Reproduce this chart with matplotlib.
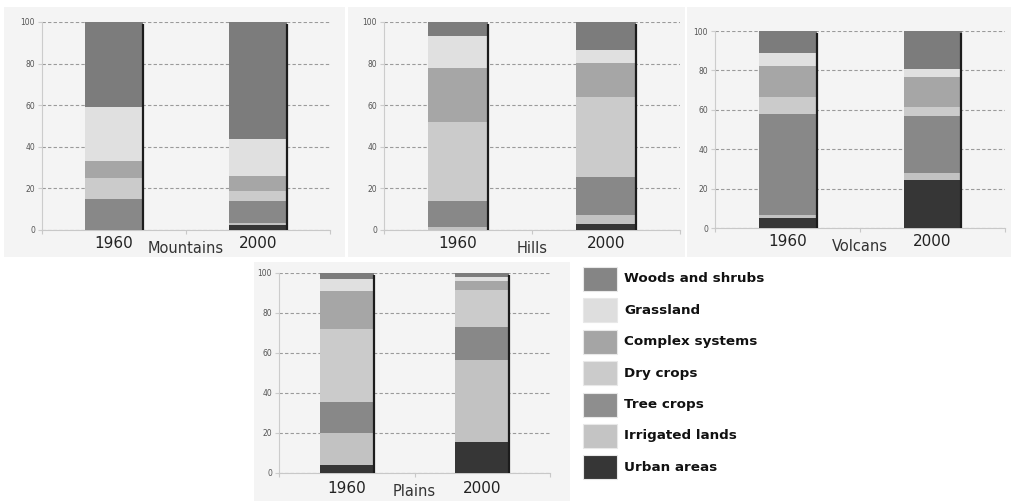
import numpy as np
from matplotlib import pyplot as plt
from matplotlib.patches import Rectangle

# stack order, bottom to top
classes = ["Urban areas", "Irrigated lands", "Tree crops", "Dry crops",
           "Complex systems", "Grassland", "Woods and shrubs"]
colors = ["#363636", "#c2c2c2", "#888888", "#cbcbcb", "#a6a6a6", "#e0e0e0", "#7c7c7c"]
legend_colors = ["#363636", "#c4c4c4", "#8e8e8e", "#cbcbcb", "#a5a5a5", "#dedede", "#858585"]

years = ["1960", "2000"]
regions = ["Mountains", "Hills", "Volcans", "Plains"]

# percent of each class, [1960, 2000], order as in classes
mountains = [[0.0, 0.0, 14.7, 10.1, 8.4, 26.1, 40.7],
             [2.2, 1.3, 10.4, 5.0, 7.2, 17.5, 56.4]]
hills = [[0.0, 1.3, 12.8, 38.0, 25.6, 15.4, 6.9],
         [2.7, 4.4, 18.5, 38.5, 16.4, 5.8, 13.7]]
volcans = [[4.9, 1.7, 51.2, 8.9, 15.7, 6.3, 11.3],
           [24.5, 3.4, 29.0, 4.4, 15.6, 3.8, 19.3]]
plains = [[3.8, 16.4, 15.4, 36.5, 18.7, 6.2, 3.0],
          [15.4, 41.1, 16.4, 18.7, 4.2, 2.2, 2.0]]
data = [mountains, hills, volcans, plains]

W, H = 1012, 501
fig = plt.figure(figsize=(W / 100, H / 100), dpi=100)
fig.patch.set_facecolor("white")

# panel backgrounds (pixels: x0, y0, x1, y1 from top-left)
panels = [(4, 7, 345, 257), (348, 7, 685, 257), (687, 7, 1012, 257), (254, 262, 570, 501)]
for x0, y0, x1, y1 in panels:
    bg = fig.add_axes([x0 / W, 1 - y1 / H, (x1 - x0) / W, (y1 - y0) / H], zorder=-5)
    bg.set_facecolor("#f4f4f4")
    bg.set_axis_off()
    bg.add_patch(Rectangle((0, 0), 1, 1, transform=bg.transAxes, facecolor="#f4f4f4",
                           edgecolor="none"))

# axes boxes (pixels: x0, x1, ytop, ybottom)
boxes = [(42, 330, 22, 230), (384, 680, 22, 230), (715, 1005, 31, 228), (279, 550, 273, 473)]
lab_off = [(9.5, 13), (9.5, 13), (10, 13), (11, 13)]

bw = 0.4
for k in range(4):
    x0, x1, yt, yb = boxes[k]
    ax = fig.add_axes([x0 / W, 1 - yb / H, (x1 - x0) / W, (yb - yt) / H])
    ax.set_facecolor("none")
    vals = np.array(data[k])
    bottoms = np.zeros(2)
    for c in range(len(classes)):
        ax.bar([0, 1], vals[:, c], bw, bottom=bottoms, color=colors[c], linewidth=0, zorder=3)
        bottoms += vals[:, c]
    # dark shadow on the right edge of each bar
    ax.vlines([bw / 2, 1 + bw / 2], 0, 99, color="#1c1c1c", linewidth=1.6, zorder=4)

    ax.set_xlim(-0.5, 1.5)
    ax.set_ylim(0, 100)
    ax.set_yticks([0, 20, 40, 60, 80, 100])
    ax.set_xticks([-0.5, 0.5, 1.5])
    ax.set_xticklabels([])
    ax.tick_params(axis="y", labelsize=5.5, labelcolor="#555555", color="#cccccc", length=3, pad=2)
    ax.tick_params(axis="x", color="#c8c8c8", length=3)
    ax.yaxis.grid(True, linestyle=(0, (3, 2)), color="#9a9a9a", linewidth=0.8, zorder=1)
    for s in ["top", "right"]:
        ax.spines[s].set_visible(False)
    ax.spines["left"].set_color("#cccccc")
    ax.spines["bottom"].set_color("#c8c8c8")

    for i, yr in enumerate(years):
        ax.annotate(yr, (i, 0), xycoords=("data", "axes fraction"),
                    xytext=(0, -lab_off[k][0]), textcoords="offset points",
                    ha="center", va="center", fontsize=11, color="#222222")
    ax.annotate(regions[k], (0.5, 0), xycoords=("data", "axes fraction"),
                xytext=(0, -lab_off[k][1]), textcoords="offset points",
                ha="center", va="center", fontsize=10.5, color="#333333")

# legend, top to bottom
for i in range(len(classes)):
    c = len(classes) - 1 - i
    top = 267 + i * 31.4
    fig.patches.append(Rectangle((583 / W, 1 - (top + 24) / H), 34 / W, 24 / H,
                                 transform=fig.transFigure, facecolor=legend_colors[c],
                                 edgecolor="#e8e8e8", linewidth=0.8, zorder=2))
    fig.text(624 / W, 1 - (top + 12) / H, classes[c], ha="left", va="center",
             fontsize=9.7, fontweight="bold", color="#111111")

fig.savefig("out.png", dpi=100)
